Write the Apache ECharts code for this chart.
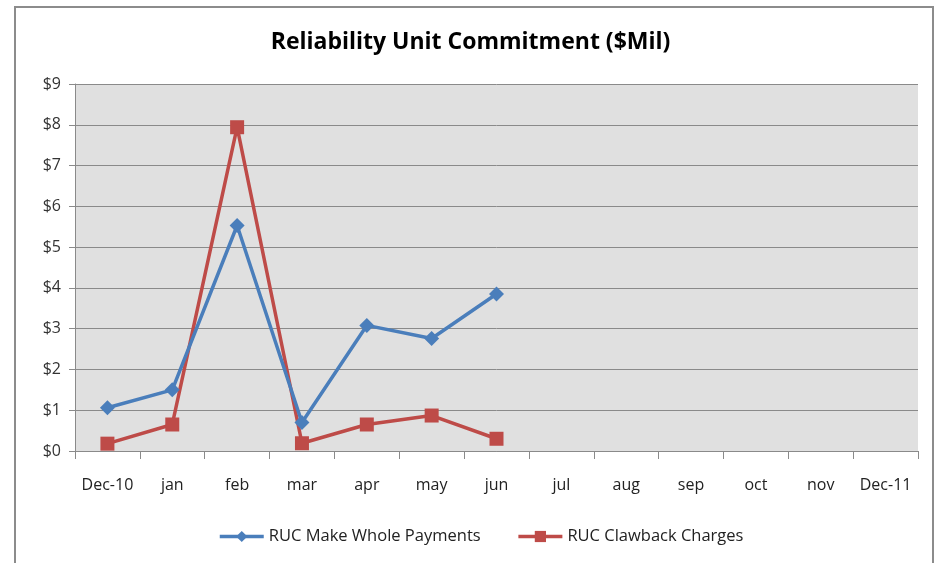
<!DOCTYPE html>
<html>
<head>
<meta charset="utf-8">
<script src="https://cdn.jsdelivr.net/npm/echarts@6/dist/echarts.min.js"></script>
<style>
  html, body { margin: 0; padding: 0; background: #fff; }
  #chart { width: 941px; height: 563px; }
</style>
</head>
<body>
<div id="chart"></div>
<script>
const months = ["Dec-10", "jan", "feb", "mar", "apr", "may", "jun", "jul", "aug", "sep", "oct", "nov", "Dec-11"];
const makeWhole = [1.06, 1.50, 5.53, 0.70, 3.08, 2.76, 3.85, null, null, null, null, null, null];
const clawback = [0.18, 0.65, 7.94, 0.19, 0.65, 0.87, 0.30, null, null, null, null, null, null];
const yTicks = [0, 1, 2, 3, 4, 5, 6, 7, 8, 9];

const font = "'Open Sans', 'Noto Sans', sans-serif";
const chart = echarts.init(document.getElementById("chart"));

chart.setOption({
  animation: false,
  backgroundColor: "#fff",
  title: {
    text: "Reliability Unit Commitment ($Mil)",
    left: "center",
    top: 26,
    textStyle: { fontFamily: font, fontSize: 23, fontWeight: "bold", color: "#000" }
  },
  graphic: [{
    type: "rect",
    shape: { x: 15, y: 7, width: 918, height: 570 },
    style: { fill: "none", stroke: "#8c8c8c", lineWidth: 2 },
    silent: true
  }],
  legend: {
    bottom: 13,
    left: 213,
    itemGap: 36,
    itemWidth: 44,
    itemHeight: 14,
    lineStyle: { width: 3.5 },
    textStyle: { fontFamily: font, fontSize: 16.5, color: "#222" },
    data: ["RUC Make Whole Payments", "RUC Clawback Charges"]
  },
  grid: {
    left: 75, right: 23, top: 84, bottom: 112,
    show: true, backgroundColor: "#e0e0e0", borderWidth: 0
  },
  xAxis: {
    type: "category",
    data: months,
    boundaryGap: true,
    axisLine: { lineStyle: { color: "#8a8a8a", width: 1 } },
    axisTick: { show: true, length: 8, lineStyle: { color: "#8a8a8a" } },
    axisLabel: { interval: 0, fontFamily: font, fontSize: 16, color: "#222", margin: 26 }
  },
  yAxis: {
    type: "value",
    min: yTicks[0],
    max: yTicks[yTicks.length - 1],
    interval: 1,
    axisLine: { show: true, lineStyle: { color: "#8a8a8a" } },
    axisTick: { show: true, length: 6, lineStyle: { color: "#8a8a8a" } },
    splitLine: { lineStyle: { color: "#8a8a8a", width: 1 } },
    axisLabel: { fontFamily: font, fontSize: 16, color: "#333", margin: 14, formatter: "${value}" }
  },
  series: [
    {
      name: "RUC Make Whole Payments",
      type: "line",
      data: makeWhole,
      symbol: "diamond",
      symbolSize: 15,
      lineStyle: { color: "#4a7ebb", width: 3.5 },
      itemStyle: { color: "#4a7ebb" },
      z: 3
    },
    {
      name: "RUC Clawback Charges",
      type: "line",
      data: clawback,
      symbol: "rect",
      symbolSize: 14,
      lineStyle: { color: "#be4b48", width: 3.5 },
      itemStyle: { color: "#be4b48" },
      z: 2
    }
  ]
});
</script>
</body>
</html>
